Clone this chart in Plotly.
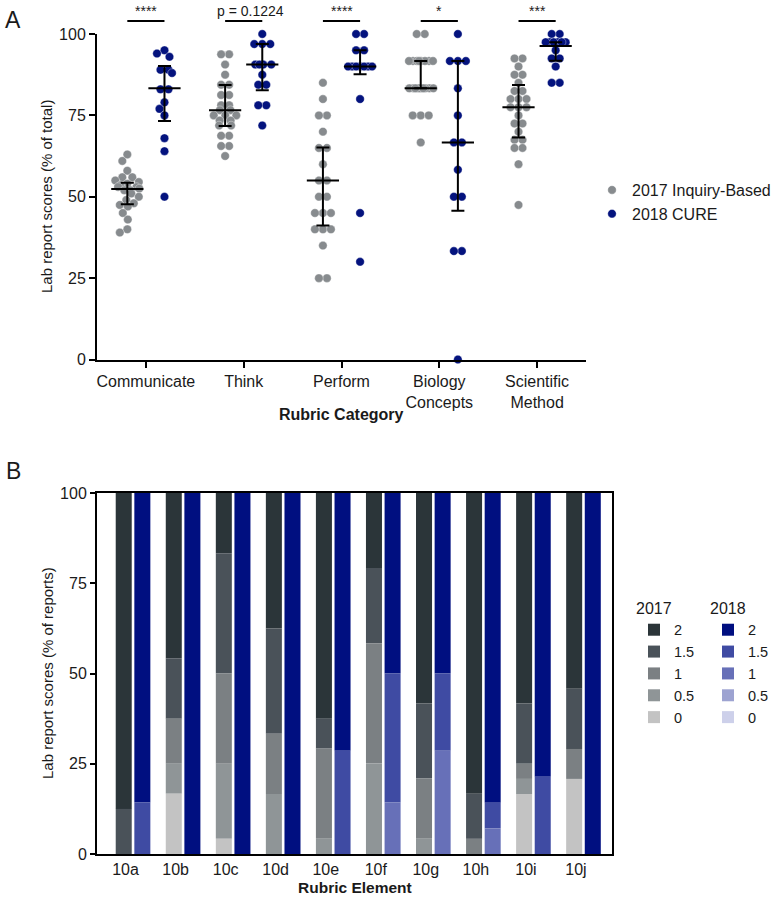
import numpy as np
import plotly.graph_objects as go

# ---------------- Panel A data ----------------
categories = ["Communicate", "Think", "Perform", "Biology<br>Concepts", "Scientific<br>Method"]
series_names = ["2017 Inquiry-Based", "2018 CURE"]

comm_2017 = [63, 61, 58, 56, 56, 55, 54.5, 54, 53.5, 53, 53, 52.5, 52, 52, 51, 50, 49, 48, 47.5, 47, 45, 43, 40, 39]
comm_2018 = [95, 94, 93, 89, 89, 88, 83, 83, 79, 77, 75, 68, 64, 50]
think_2017 = [93.75, 93.75, 90.6, 87.5, 84.4, 84.4, 81.25, 81.25, 78.1, 78.1, 76.6, 76.6, 75, 75, 75,
              73.4, 73.4, 71.9, 71.9, 68.75, 68.75, 65.6, 65.6, 62.5]
think_2018 = [100, 96.9, 96.9, 96.9, 90.6, 90.6, 90.6, 90.6, 87.5, 84.4, 84.4, 78.1, 78.1, 71.9]
perf_2017 = [85, 80, 75, 75, 70, 65, 65, 60, 55, 55, 50, 50, 45, 45, 45, 40, 40, 40, 35, 25, 25]
perf_2018 = [100, 100, 95, 95, 90, 90, 90, 90, 90, 90, 90, 80, 45, 30]
bio_2017 = [100, 100] + [91.7] * 8 + [83.3] * 10 + [75, 75, 75, 66.7]
bio_2018 = [100, 91.7, 91.7, 91.7, 83.3, 75, 66.7, 66.7, 58.3, 50, 50, 33.3, 33.3, 0]
sci_2017 = [92.5, 92.5, 90, 87.5, 87.5, 85, 82.5, 82.5, 80, 80, 80, 77.5, 77.5, 77.5, 75, 72.5, 72.5,
            70, 67.5, 67.5, 65, 65, 60, 47.5]
sci_2018 = [100, 100, 97.5, 97.5, 97.5, 97.5, 97.5, 97.5, 95, 92.5, 92.5, 90, 85, 85]

scores_2017 = [comm_2017, think_2017, perf_2017, bio_2017, sci_2017]
scores_2018 = [comm_2018, think_2018, perf_2018, bio_2018, sci_2018]

median_2017 = [52.4, 76.6, 55.0, 83.3, 77.5]
q1_2017 = [47.7, 71.7, 41.2, 83.3, 68.2]
q3_2017 = [54.3, 84.3, 65.1, 91.7, 84.3]
median_2018 = [83.3, 90.6, 90.0, 66.7, 96.3]
q1_2018 = [73.3, 82.7, 87.6, 45.7, 91.8]
q3_2018 = [90.2, 96.9, 95.0, 91.7, 97.5]

significance = ["****", "p = 0.1224", "****", "*", "***"]
a_yticks = [0, 25, 50, 75, 100]

# ---------------- Panel B data ----------------
elements = ["10a", "10b", "10c", "10d", "10e", "10f", "10g", "10h", "10i", "10j"]
score_levels = ["2", "1.5", "1", "0.5", "0"]

pct2017_2 = [87.5, 45.8, 16.7, 37.5, 62.5, 20.8, 58.3, 83.3, 58.3, 54.2]
pct2017_15 = [12.5, 16.7, 33.3, 29.2, 8.3, 20.8, 20.8, 12.5, 16.7, 16.7]
pct2017_1 = [0, 12.5, 25.0, 16.7, 25.0, 33.3, 16.7, 4.2, 4.2, 8.3]
pct2017_05 = [0, 8.3, 20.8, 16.6, 4.2, 25.1, 4.2, 0, 4.2, 0]
pct2017_0 = [0, 16.7, 4.2, 0, 0, 0, 0, 0, 16.6, 20.8]

pct2018_2 = [85.7, 100, 100, 100, 71.4, 50.0, 50.0, 85.8, 78.6, 100]
pct2018_15 = [14.3, 0, 0, 0, 28.6, 35.7, 21.4, 7.1, 21.4, 0]
pct2018_1 = [0, 0, 0, 0, 0, 14.3, 28.6, 7.1, 0, 0]
pct2018_05 = [0, 0, 0, 0, 0, 0, 0, 0, 0, 0]
pct2018_0 = [0, 0, 0, 0, 0, 0, 0, 0, 0, 0]

b_yticks = [0, 25, 50, 75, 100]

# ---------------- styling ----------------
FONT = "Liberation Sans, Arial, Helvetica, sans-serif"
TXT = "#1a1a1a"
GRAY = "#878b8e"
NAVY = "#04137e"
colors_2017 = ["#2b3539", "#4a5259", "#7b8083", "#8f9597", "#c3c3c3"]
colors_2018 = ["#000f80", "#3f4ba3", "#6770b8", "#9da3d1", "#cdd0ea"]

W, H = 781, 901
ML, MR, MT, MB = 97, 169, 34, 47
PW = W - ML - MR
PH = H - MT - MB

A_x0, A_x1 = 97, 586
A_y0, A_y1 = 34, 359.5
B_y0, B_y1 = 493, 854

px_per_cat = (A_x1 - A_x0) / 5.0
px_per_unit = (A_y1 - A_y0) / 100.0
GROUP_OFF = 0.19


def py2paper(py):
    return (H - MB - py) / PH


def px2paper(px):
    return (px - ML) / PW


def swarm(values, d=8.0, half_w=12.0):
    vals = np.asarray(values, float)
    order = np.argsort(-vals, kind="stable")
    cands = np.arange(-half_w, half_w + 0.01, 0.5)
    cands = cands[np.argsort(np.abs(cands), kind="stable")]
    placed = []
    offs = np.zeros(len(vals))
    for i in order:
        y = vals[i] * px_per_unit
        best = None
        bestd, bestc = -1.0, 0.0
        for c in cands:
            md = min((np.hypot(c - px, y - py) for px, py in placed), default=1e9)
            if md >= d:
                best = c
                break
            if md > bestd:
                bestd, bestc = md, c
        if best is None:
            best = bestc
        offs[i] = best
        placed.append((best, y))
    for v in np.unique(vals):
        idx = np.where(vals == v)[0]
        if len(idx) > 1:
            offs[idx] -= offs[idx].mean()
    return offs / px_per_cat


fig = go.Figure()

# ---- Panel A points ----
for data, col, sign, name in [(scores_2017, GRAY, -1, series_names[0]),
                              (scores_2018, NAVY, 1, series_names[1])]:
    xs, ys = [], []
    for i, vals in enumerate(data):
        offs = swarm(vals)
        xs.extend(list(i + sign * GROUP_OFF + offs))
        ys.extend(vals)
    fig.add_trace(go.Scatter(
        x=xs, y=ys, mode="markers", name=name,
        marker=dict(size=8.5, color=col, line=dict(width=0.6, color="rgba(255,255,255,0.6)")),
        cliponaxis=False, xaxis="x", yaxis="y", legend="legend", hoverinfo="y"))

# ---- Panel A median / IQR ----
for med, q1, q3, sign in [(median_2017, q1_2017, q3_2017, -1), (median_2018, q1_2018, q3_2018, 1)]:
    med = np.array(med); q1 = np.array(q1); q3 = np.array(q3)
    fig.add_trace(go.Scatter(
        x=[i + sign * GROUP_OFF for i in range(len(categories))], y=med, mode="markers",
        marker=dict(symbol="line-ew", size=23, color="black", line=dict(width=2, color="black")),
        error_y=dict(type="data", symmetric=False, array=q3 - med, arrayminus=med - q1,
                     width=6.5, thickness=2, color="black"),
        showlegend=False, cliponaxis=False, xaxis="x", yaxis="y", hoverinfo="skip"))

# ---- Panel A significance ----
shapes = []
annotations = []
for i, s in enumerate(significance):
    shapes.append(dict(type="line", xref="x", yref="paper",
                       x0=i - GROUP_OFF, x1=i + GROUP_OFF,
                       y0=py2paper(21), y1=py2paper(21),
                       line=dict(color="black", width=2)))
    annotations.append(dict(xref="x", yref="paper", x=i + (0.07 if i == 1 else 0), y=py2paper(0.5),
                            yanchor="top", xanchor="center", text=s, showarrow=False,
                            font=dict(family=FONT, size=14, color=TXT)))

# ---- Panel B bars ----
pct_2017 = [pct2017_2, pct2017_15, pct2017_1, pct2017_05, pct2017_0]
pct_2018 = [pct2018_2, pct2018_15, pct2018_1, pct2018_05, pct2018_0]
for pct, cols, off, leg in [(pct_2017, colors_2017, -0.196, "legend2"),
                            (pct_2018, colors_2018, 0.176, "legend3")]:
    cum = np.zeros(len(elements))
    bases = [None] * len(score_levels)
    for j in reversed(range(len(score_levels))):
        bases[j] = cum.copy()
        cum = cum + np.array(pct[j], float)
    for j, lvl in enumerate(score_levels):
        fig.add_trace(go.Bar(
            x=elements, y=pct[j], base=bases[j], name=lvl,
            offset=off, width=0.32,
            marker=dict(color=cols[j], line=dict(width=0)),
            xaxis="x2", yaxis="y2", legend=leg))

# ---- Text labels ----
def label(px, py, text, size, bold=False, angle=0):
    return dict(xref="paper", yref="paper", x=px2paper(px), y=py2paper(py),
                xanchor="center", yanchor="middle", textangle=angle,
                text=f"<b>{text}</b>" if bold else text, showarrow=False,
                font=dict(family=FONT, size=size, color=TXT))


annotations += [
    label(341.5, 414, "Rubric Category", 16, bold=True),
    label(354.5, 887, "Rubric Element", 15.5, bold=True),
    label(47, 197, "Lab report scores (% of total)", 15, angle=-90),
    label(47, 673, "Lab report scores (% of reports)", 15, angle=-90),
    label(13, 20, "A", 23),
    label(13, 471, "B", 23),
]

axis_common = dict(showline=True, linecolor="black", linewidth=2, showgrid=False, zeroline=False,
                   tickfont=dict(family=FONT, size=16, color=TXT))

fig.update_layout(
    width=W, height=H, autosize=False,
    margin=dict(l=ML, r=MR, t=MT, b=MB, autoexpand=False),
    paper_bgcolor="white", plot_bgcolor="white",
    template="none",
    barmode="overlay",
    font=dict(family=FONT, color=TXT),
    xaxis=dict(domain=[0, px2paper(A_x1)], anchor="y", range=[-0.5, 4.5],
               tickmode="array", tickvals=list(range(len(categories))), ticktext=categories,
               ticks="outside", ticklen=6, tickwidth=2, tickcolor="black", **axis_common),
    yaxis=dict(domain=[py2paper(A_y1), 1], anchor="x", range=[0, 100],
               tickmode="array", tickvals=a_yticks,
               ticks="outside", ticklen=6, tickwidth=2, tickcolor="black", **axis_common),
    xaxis2=dict(domain=[0, 1], anchor="y2", range=[-0.57, 9.72], type="category",
                ticks="", mirror=True, **axis_common),
    yaxis2=dict(domain=[0, py2paper(B_y0)], anchor="x2", range=[0, 100],
                tickmode="array", tickvals=b_yticks, mirror=True,
                ticks="outside", ticklen=5, tickwidth=1.5, tickcolor="black", **axis_common),
    legend=dict(x=px2paper(592), y=py2paper(173), xanchor="left", yanchor="top",
                bgcolor="rgba(0,0,0,0)", font=dict(family=FONT, size=16, color=TXT),
                itemclick=False),
    legend2=dict(x=px2paper(634), y=py2paper(593), xanchor="left", yanchor="top",
                 bgcolor="rgba(0,0,0,0)", title=dict(text="2017", font=dict(family=FONT, size=16, color=TXT)),
                 font=dict(family=FONT, size=14.5, color=TXT), tracegroupgap=0),
    legend3=dict(x=px2paper(708), y=py2paper(593), xanchor="left", yanchor="top",
                 bgcolor="rgba(0,0,0,0)", title=dict(text="2018", font=dict(family=FONT, size=16, color=TXT)),
                 font=dict(family=FONT, size=14.5, color=TXT), tracegroupgap=0),
    shapes=shapes,
    annotations=annotations,
    showlegend=True,
)

fig.write_html("out.html", config={"displayModeBar": False},
               post_script="document.body.style.margin='0';")
